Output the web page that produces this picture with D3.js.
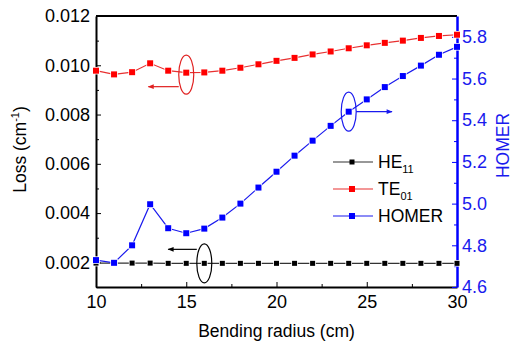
<!DOCTYPE html>
<html>
<head>
<meta charset="utf-8">
<script src="https://cdn.jsdelivr.net/npm/d3@7"></script>
<style>
  body { margin: 0; background: #fff; }
  text { font-family: Arial, "Liberation Sans", sans-serif; }
</style>
</head>
<body>
<div id="chart"></div>
<script>
// bending radius (cm)
const radius = [10, 11, 12, 13, 14, 15, 16, 17, 18, 19, 20, 21, 22, 23, 24, 25, 26, 27, 28, 29, 30];
// loss (cm^-1), left axis
const he11 = [0.00197, 0.00197, 0.00197, 0.00197, 0.00196, 0.00196, 0.00196, 0.00196, 0.00196, 0.00196, 0.00196,
    0.00196, 0.00196, 0.00196, 0.00196, 0.00196, 0.00196, 0.00196, 0.00196, 0.00196, 0.00196];
const te01 = [0.00978, 0.00963, 0.00972, 0.01008, 0.00978, 0.0097, 0.00971, 0.00978, 0.0099, 0.01004, 0.01018,
    0.0103, 0.01044, 0.01056, 0.01069, 0.01081, 0.01091, 0.011, 0.01111, 0.01119, 0.01124];
// HOMER, right axis
const homer = [4.729, 4.716, 4.80, 4.997, 4.882, 4.858, 4.88, 4.933, 5.0, 5.077, 5.153,
    5.23, 5.302, 5.373, 5.441, 5.5, 5.559, 5.612, 5.662, 5.714, 5.752];

const xTicks = [10, 15, 20, 25, 30];
const lossTicks = [0.002, 0.004, 0.006, 0.008, 0.010, 0.012];
const homerTicks = [4.6, 4.8, 5.0, 5.2, 5.4, 5.6, 5.8];

const margin = {top: 16, right: 56, bottom: 57, left: 96},
    width = 513 - margin.left - margin.right,
    height = 344 - margin.top - margin.bottom;

const svg = d3.select("#chart")
    .append("svg")
    .attr("width", 513)
    .attr("height", 344)
    .append("g")
    .attr("transform", `translate(${margin.left}, ${margin.top})`);

const x = d3.scaleLinear().domain([10, 30]).range([0, width]);
const yl = d3.scaleLinear().domain([0.001, 0.012]).range([height, 0]);
const yr = d3.scaleLinear().domain([4.6, 5.9]).range([height, 0]);

const fs = "18px";

// minor ticks
svg.append("g")
    .attr("transform", `translate(0, ${height})`)
    .call(d3.axisBottom(x).tickValues(d3.range(12.5, 30, 5)).tickSize(-3).tickFormat(""))
    .call(g => g.select(".domain").remove());
svg.append("g")
    .call(d3.axisLeft(yl).tickValues(d3.range(0.001, 0.0125, 0.002)).tickSize(-3).tickFormat(""))
    .call(g => g.select(".domain").remove());
svg.append("g")
    .attr("transform", `translate(${width}, 0)`)
    .attr("color", "#0000ff")
    .call(d3.axisRight(yr).tickValues(d3.range(4.7, 5.9, 0.2)).tickSize(-3).tickFormat(""))
    .call(g => g.select(".domain").remove());

// top frame
svg.append("line")
    .attr("x1", 0).attr("x2", width).attr("y1", 0).attr("y2", 0)
    .attr("stroke", "#000").attr("stroke-width", 2);

// major axes
svg.append("g")
    .attr("transform", `translate(0, ${height})`)
    .call(d3.axisBottom(x).tickValues(xTicks).tickSize(-5).tickPadding(8).tickSizeOuter(0))
    .call(g => g.select(".domain").attr("stroke-width", 2))
    .call(g => g.selectAll("text").attr("font-size", fs).attr("fill", "#000"));

svg.append("g")
    .call(d3.axisLeft(yl).tickValues(lossTicks).tickSize(-5).tickPadding(6).tickSizeOuter(0)
        .tickFormat(d3.format(".3f")))
    .call(g => g.select(".domain").attr("stroke-width", 2))
    .call(g => g.selectAll("text").attr("font-size", fs).attr("fill", "#000"));

svg.append("g")
    .attr("transform", `translate(${width}, 0)`)
    .attr("color", "#0000ff")
    .call(d3.axisRight(yr).tickValues(homerTicks).tickSize(-5).tickPadding(5).tickSizeOuter(0)
        .tickFormat(d3.format(".1f")))
    .call(g => g.select(".domain").attr("stroke-width", 2.5))
    .call(g => g.selectAll("text").attr("font-size", fs).attr("fill", "#1a1aee"));

// axis titles
svg.append("text")
    .attr("x", width / 2).attr("y", height + 50)
    .attr("text-anchor", "middle").attr("font-size", "17.5px")
    .text("Bending radius (cm)");

const ylab = svg.append("text")
    .attr("transform", `translate(${-70}, ${height / 2 - 2}) rotate(-90)`)
    .attr("text-anchor", "middle").attr("font-size", "17.5px");
ylab.append("tspan").text("Loss (cm");
ylab.append("tspan").attr("font-size", "11px").attr("dy", -7).text("-1");
ylab.append("tspan").attr("dy", 7).text(")");

svg.append("text")
    .attr("transform", `translate(${width + 52}, ${height / 2 - 6}) rotate(-90)`)
    .attr("text-anchor", "middle").attr("font-size", "17.5px").attr("fill", "#1a1aee")
    .text("HOMER");

// series
const series = [
    {name: "HE", sub: "11", values: he11, y: yl, line: "#333", fill: "#000", size: 5},
    {name: "TE", sub: "01", values: te01, y: yl, line: "#e83030", fill: "#ff0000", size: 6},
    {name: "HOMER", sub: "", values: homer, y: yr, line: "#1a1aee", fill: "#0000ff", size: 6}
];

svg.append("defs").append("clipPath").attr("id", "clip")
    .append("rect").attr("x", -4).attr("y", 0).attr("width", width + 8).attr("height", height);

series.forEach(s => {
    const pts = radius.map((r, i) => [r, s.values[i]]);
    const g = svg.append("g").attr("clip-path", "url(#clip)");
    g.append("path")
        .datum(pts)
        .attr("fill", "none")
        .attr("stroke", s.line)
        .attr("stroke-width", 1.2)
        .attr("d", d3.line().x(d => x(d[0])).y(d => s.y(d[1])));
    g.selectAll("rect")
        .data(pts)
        .join("rect")
        .attr("x", d => x(d[0]) - s.size / 2)
        .attr("y", d => s.y(d[1]) - s.size / 2)
        .attr("width", s.size).attr("height", s.size)
        .attr("fill", s.fill)
        .attr("stroke", "#fff").attr("stroke-width", 1.5)
        .attr("paint-order", "stroke");
});

// legend
const legend = svg.append("g").attr("transform", "translate(237, 146)");
series.forEach((s, i) => {
    const row = legend.append("g").attr("transform", `translate(0, ${i * 27})`);
    row.append("line").attr("x1", 0).attr("x2", 40).attr("stroke", s.line).attr("stroke-width", 1.2);
    row.append("rect").attr("x", 19 - s.size / 2).attr("y", -s.size / 2)
        .attr("width", s.size).attr("height", s.size).attr("fill", s.fill);
    const t = row.append("text").attr("x", 45).attr("y", 6).attr("font-size", "17.5px").attr("fill", "#000");
    t.append("tspan").text(s.name);
    if (s.sub) t.append("tspan").attr("font-size", "11px").attr("dy", 5).text(s.sub);
});

// ellipse + arrow annotations
const defs = svg.select("defs");
[["arrowRed", "#e02020"], ["arrowBlue", "#1a1aee"], ["arrowBlack", "#000"]].forEach(([id, c]) => {
    defs.append("marker").attr("id", id)
        .attr("viewBox", "0 0 10 10").attr("refX", 9).attr("refY", 5)
        .attr("markerWidth", 8).attr("markerHeight", 6).attr("orient", "auto")
        .attr("markerUnits", "userSpaceOnUse")
        .append("path").attr("d", "M0,1L10,5L0,9Z").attr("fill", c);
});

function note(cx, cy, color, arrowTo, arrowY, id) {
    svg.append("ellipse")
        .attr("cx", cx).attr("cy", cy).attr("rx", 7.5).attr("ry", 19.5)
        .attr("fill", "none").attr("stroke", color).attr("stroke-width", 1.2);
    const from = arrowTo < cx ? cx - 7.5 : cx + 7.5;
    svg.append("line")
        .attr("x1", from).attr("x2", arrowTo).attr("y1", arrowY).attr("y2", arrowY)
        .attr("stroke", color).attr("stroke-width", 1.2)
        .attr("marker-end", `url(#${id})`);
}
note(x(15), yl(te01[5]) + 2, "#e02020", x(12.9), yl(te01[5]) + 14, "arrowRed");
note(x(24), yr(homer[14]), "#1a1aee", x(26.4), yr(homer[14]), "arrowBlue");
note(x(16), yl(he11[6]), "#000", x(14.0), yl(he11[6]) - 14, "arrowBlack");
</script>
</body>
</html>
